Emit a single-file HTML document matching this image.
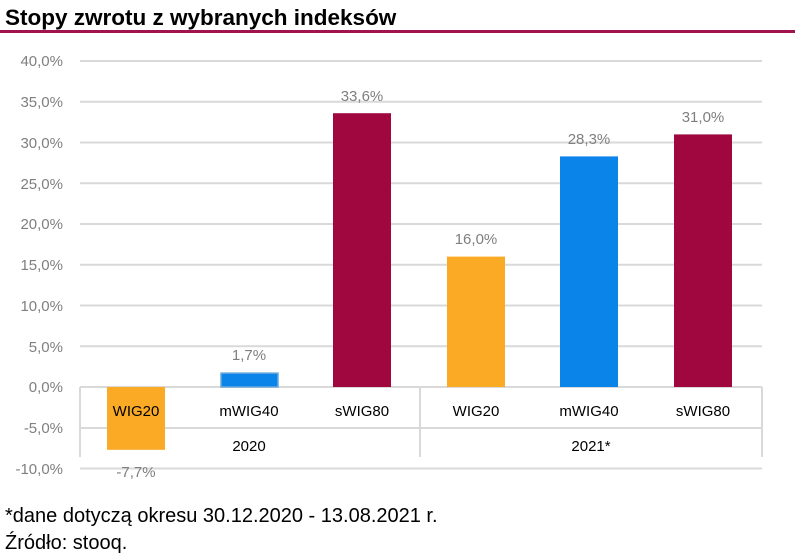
<!DOCTYPE html>
<html><head><meta charset="utf-8"><style>
body{margin:0;background:#fff;width:795px;height:555px;overflow:hidden;font-family:"Liberation Sans",sans-serif}
</style></head><body>
<svg width="795" height="555" xmlns="http://www.w3.org/2000/svg" font-family="Liberation Sans, sans-serif">
<text x="5" y="25" font-size="22.5" font-weight="bold" fill="#000">Stopy zwrotu z wybranych indeksów</text>
<rect x="0" y="30" width="795" height="3" fill="#A0134E"/>
<g stroke="#d9d9d9" stroke-width="2">
<line x1="80" x2="762" y1="61" y2="61"/><line x1="80" x2="762" y1="101.75" y2="101.75"/>
<line x1="80" x2="762" y1="142.5" y2="142.5"/><line x1="80" x2="762" y1="183.25" y2="183.25"/>
<line x1="80" x2="762" y1="224" y2="224"/><line x1="80" x2="762" y1="264.75" y2="264.75"/>
<line x1="80" x2="762" y1="305.5" y2="305.5"/><line x1="80" x2="762" y1="346.25" y2="346.25"/>
<line x1="80" x2="762" y1="387" y2="387"/><line x1="80" x2="762" y1="428" y2="428"/>
<line x1="80" x2="762" y1="468.5" y2="468.5"/>
<line x1="80" x2="80" y1="387" y2="457"/><line x1="420" x2="420" y1="387" y2="457"/><line x1="762" x2="762" y1="387" y2="457"/>
</g>
<g font-size="15" fill="#7f7f7f" text-anchor="end">
<text x="63" y="66">40,0%</text><text x="63" y="107">35,0%</text><text x="63" y="148">30,0%</text>
<text x="63" y="189">25,0%</text><text x="63" y="229">20,0%</text><text x="63" y="270">15,0%</text>
<text x="63" y="311">10,0%</text><text x="63" y="352">5,0%</text><text x="63" y="392">0,0%</text>
<text x="63" y="433">-5,0%</text><text x="63" y="474">-10,0%</text>
</g>
<rect x="107" y="387" width="58" height="62.8" fill="#FBAA26"/>
<rect x="221" y="373.1" width="57" height="13.9" fill="#0A84E8" stroke="#6aa8dc" stroke-width="1.5"/>
<rect x="333" y="113.2" width="58" height="273.8" fill="#A0073F"/>
<rect x="447" y="256.6" width="58" height="130.4" fill="#FBAA26"/>
<rect x="560" y="156.4" width="58" height="230.6" fill="#0A84E8"/>
<rect x="674" y="134.4" width="58" height="252.6" fill="#A0073F"/>
<g font-size="15" fill="#7f7f7f" text-anchor="middle">
<text x="136" y="477">-7,7%</text><text x="249" y="360">1,7%</text><text x="362" y="101">33,6%</text>
<text x="476" y="244">16,0%</text><text x="589" y="144">28,3%</text><text x="703" y="122">31,0%</text>
</g>
<g font-size="15" fill="#000" text-anchor="middle">
<text x="136" y="416">WIG20</text><text x="249" y="416">mWIG40</text><text x="362" y="416">sWIG80</text>
<text x="476" y="416">WIG20</text><text x="589" y="416">mWIG40</text><text x="703" y="416">sWIG80</text>
<text x="249" y="451">2020</text><text x="591" y="451">2021*</text>
</g>
<text x="5" y="522" font-size="20" fill="#000">*dane dotyczą okresu 30.12.2020  - 13.08.2021 r.</text>
<text x="5" y="549" font-size="20" fill="#000">Źródło: stooq.</text>
</svg>
</body></html>
